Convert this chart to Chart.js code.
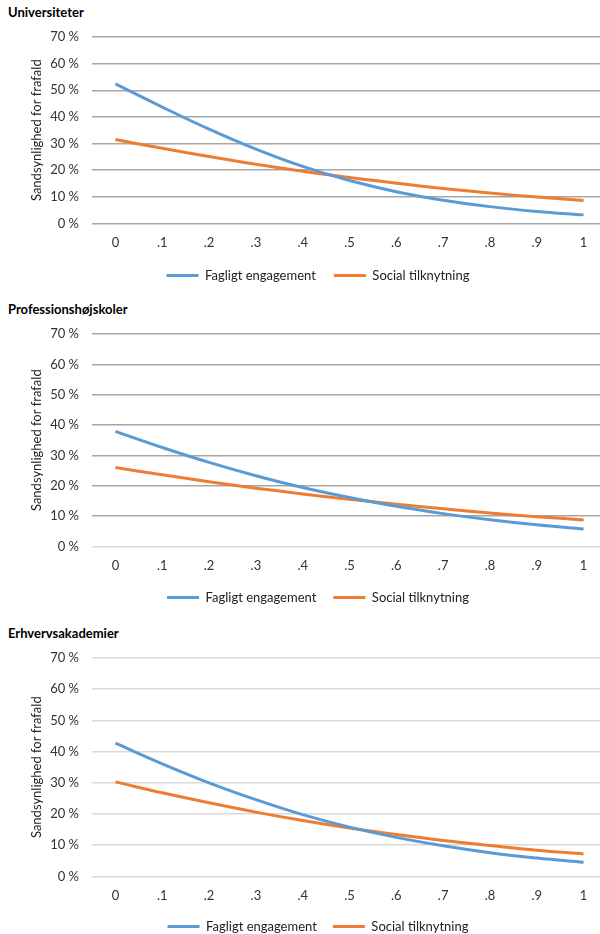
<!DOCTYPE html>
<html>
<head>
<meta charset="utf-8">
<script src="https://cdn.jsdelivr.net/npm/chart.js@4.4.1/dist/chart.umd.min.js"></script>
<style>
  html, body { margin: 0; padding: 0; background: #fff; overflow: hidden; width: 600px; height: 934px; }
  .title { position: absolute; left: 8px; font: bold 13px Lato, sans-serif; color: #000; line-height: 16px; }
  .box { position: absolute; left: 0; width: 607px; }
</style>
</head>
<body>
<div class="title" style="top:4px">Universiteter</div>
<div class="box" style="top:0px;height:292px"><canvas id="c1"></canvas></div>
<div class="title" style="top:301px">Professionshøjskoler</div>
<div class="box" style="top:296px;height:318px"><canvas id="c2"></canvas></div>
<div class="title" style="top:625px">Erhvervsakademier</div>
<div class="box" style="top:620px;height:323px"><canvas id="c3"></canvas></div>
<script>
// x categories (engagement / tilknytning level)
var labels = ['0', '.1', '.2', '.3', '.4', '.5', '.6', '.7', '.8', '.9', '1'];
var seriesNames = ['Fagligt engagement', 'Social tilknytning'];
var yTicks = [0, 10, 20, 30, 40, 50, 60, 70];

// dropout probability in %
var uniFaglig    = [52.4, 43.7, 35.4, 27.9, 21.4, 16.1, 11.9, 8.7, 6.3, 4.5, 3.2];
var uniSocial    = [31.5, 28.2, 25.1, 22.2, 19.6, 17.2, 15.1, 13.1, 11.4, 9.9, 8.6];
var profFaglig   = [37.9, 32.6, 27.7, 23.3, 19.4, 16.1, 13.2, 10.8, 8.8, 7.1, 5.7];
var profSocial   = [26.0, 23.6, 21.3, 19.2, 17.3, 15.5, 13.9, 12.4, 11.0, 9.8, 8.7];
var erhvFaglig   = [42.7, 36.1, 30.0, 24.6, 19.8, 15.8, 12.5, 9.8, 7.6, 5.9, 4.5];
var erhvSocial   = [30.3, 26.8, 23.6, 20.6, 17.9, 15.5, 13.4, 11.5, 9.9, 8.4, 7.2];

var blue = '#5b9bd5', orange = '#ed7d31';
var font = 'Lato, sans-serif';

function renderChart(id, faglig, social, padTop, legendPad, gridColor, zeroColor){
	var ctx = document.getElementById(id).getContext('2d');
	return new Chart(ctx, {
		type: 'line',
		data: {
			labels: labels,
			datasets: [
				{label: seriesNames[0], data: faglig, borderColor: blue, backgroundColor: blue,
				 borderWidth: 3, pointRadius: 0, tension: 0.4, fill: false},
				{label: seriesNames[1], data: social, borderColor: orange, backgroundColor: orange,
				 borderWidth: 3, pointRadius: 0, tension: 0.4, fill: false}
			]
		},
		options: {
			animation: false,
			responsive: true,
			maintainAspectRatio: false,
			layout: {padding: {left: 29, right: 0, top: padTop, bottom: 0}},
			plugins: {
				title: {display: false},
				tooltip: {enabled: false},
				legend: {
					position: 'bottom',
					labels: {
						usePointStyle: true, pointStyle: 'line', pointStyleWidth: 32,
						padding: legendPad, color: '#222', font: {family: font, size: 13}
					}
				}
			},
			scales: {
				x: {
					offset: true,
					afterFit: function(scale){ scale.height = 27.6; },
					grid: {display: false, drawTicks: false},
					border: {display: false},
					ticks: {color: '#333', padding: 12, font: {family: font, size: 13}, maxRotation: 0}
				},
				y: {
					min: 0, max: 70,
					afterFit: function(scale){ scale.width = 63; },
					afterBuildTicks: function(scale){ scale.ticks = yTicks.map(function(v){ return {value: v}; }); },
					grid: {
						drawTicks: false, lineWidth: 1.5,
						color: function(c){ return c.tick && c.tick.value === 0 ? zeroColor : gridColor; }
					},
					border: {display: false},
					ticks: {
						color: '#333', padding: 13, font: {family: font, size: 13},
						callback: function(v){ return v + ' %'; }
					},
					title: {
						display: true, text: 'Sandsynlighed for frafald', color: '#222',
						padding: {top: 0, bottom: 0}, font: {family: font, size: 13}
					}
				}
			}
		}
	});
}

renderChart('c1', uniFaglig, uniSocial, 37, 18, '#a6a6a6', '#a6a6a6');
renderChart('c2', profFaglig, profSocial, 38, 17, '#a6a6a6', '#d9d9d9');
renderChart('c3', erhvFaglig, erhvSocial, 38, 16, '#d9d9d9', '#d9d9d9');
</script>
</body>
</html>
